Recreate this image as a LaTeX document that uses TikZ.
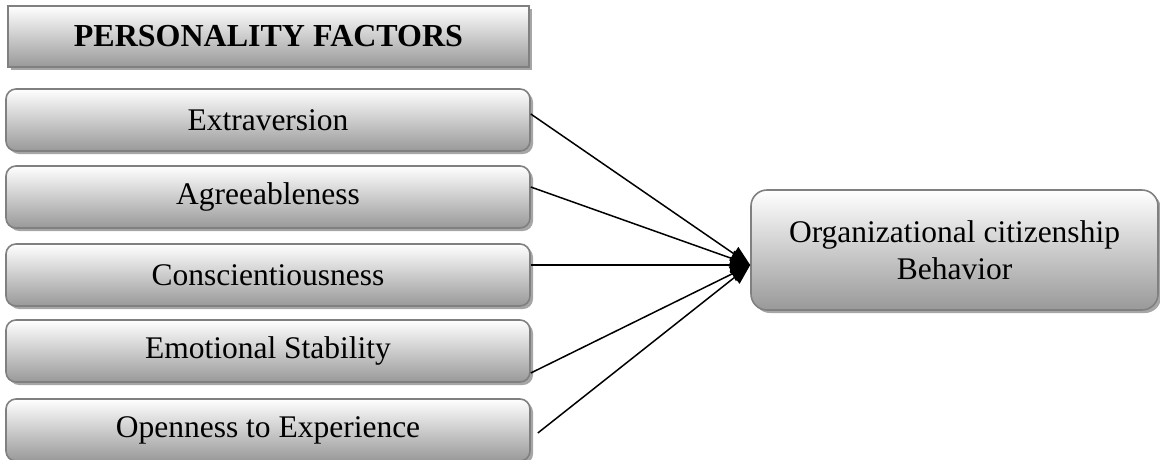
\documentclass[tikz,border=0pt]{standalone}
\usepackage{fontspec}
\setmainfont{Liberation Serif}
\usetikzlibrary{arrows.meta,shadows,calc}
\tikzset{
  base/.style={draw=black!50, line width=1.6pt, top color=white, bottom color=black!40,
    inner sep=0pt, align=center, font=\fontsize{31.5}{37}\selectfont,
    drop shadow={shadow xshift=3pt, shadow yshift=-3pt, fill=black!35, opacity=1}},
  titlebox/.style={base, line width=2.2pt, font=\fontsize{32}{37}\selectfont\bfseries},
  factor/.style={base, rounded corners=10pt, minimum width=524pt, minimum height=62pt},
  outcome/.style={base, rounded corners=16pt, minimum width=407pt, minimum height=120pt},
  link/.style={line width=1.5pt, -{Triangle[length=20pt,width=16pt]}}
}
\begin{document}
\begin{tikzpicture}[x=1pt,y=1pt]
\useasboundingbox (0,0) rectangle (1160,-459);
\node[titlebox, minimum width=521pt, minimum height=61pt] (title) at (268.5,-36.5) {PERSONALITY FACTORS};
\node[factor] (ext) at (268,-120) {Extraversion};
\node[factor] (agr) at (268,-197) {Agreeableness};
\node[factor] (con) at (268,-275) {Conscientiousness};
\node[factor] (emo) at (268,-351) {Emotional Stability};
\node[factor] (ope) at (268,-430) {Openness to Experience};
\node[outcome] (ocb) at (954.5,-250) {Organizational citizenship\\Behavior};
\coordinate (tip) at ($(ocb.west)+(0,-15)$);
\draw[link] ($(ext.east)+(0,6)$) -- (tip);
\draw[link] ($(agr.east)+(0,10)$) -- (tip);
\draw[link] ($(con.east)+(0,10)$) -- (tip);
\draw[link] ($(emo.east)+(0,-22)$) -- (tip);
\draw[link] ($(ope.east)+(7,-3)$) -- (tip);
\end{tikzpicture}
\end{document}
